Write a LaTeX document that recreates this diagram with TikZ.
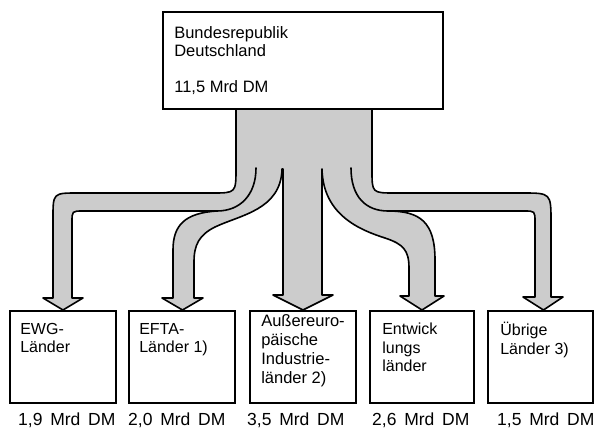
\documentclass[tikz,border=0pt]{standalone}
\usepackage{fontspec}
\setmainfont{Liberation Sans}
\newfontfamily\amountfont{Liberation Sans}[WordSpace=1.6]
\begin{document}
\begin{tikzpicture}[x=1pt,y=-1pt,
  box/.style={draw=black,line width=1.8pt,fill=white,rectangle,inner sep=0pt},
  txt/.style={anchor=north west,inner sep=0pt,align=left,font=\fontsize{16}{18.5}\selectfont},
  amount/.style={anchor=base west,inner sep=0pt,font=\amountfont\fontsize{17.5}{19}\selectfont},
  flow/.style={fill=black!20,draw=black,line width=1.6pt,line join=round},
  flowline/.style={draw=black,line width=1.6pt,line cap=round}]
\useasboundingbox (0,0) rectangle (597,431);

% shaded flow band (trunk and five arrows)
\path[flow] (236,109)
  -- (236,168) .. controls (236,193) .. (212,193)
  -- (78,193) .. controls (53,193) .. (53,218)
  -- (53,298) -- (43,298) -- (63,310) -- (83,298) -- (72,298)
  -- (72,222) .. controls (72,211) .. (83,211)
  -- (217,211) .. controls (185,213) and (173,225) .. (173,250)
  -- (173,298) -- (162,298) -- (182.5,310) -- (203,298) -- (194,298)
  -- (194,262) .. controls (194,245) and (199,235) .. (215,227)
  .. controls (240,215) and (281,210) .. (282,169)
  -- (283,169) -- (283,295) -- (273,295) -- (303,310) -- (333,295) -- (322,295)
  -- (322,169) .. controls (323,215) and (360,230) .. (385,238)
  .. controls (403,244) and (409,250) .. (409,268)
  -- (409,296) -- (400,296) -- (422,310) -- (444,296) -- (435,296)
  -- (435,260) .. controls (435,222) and (420,211) .. (388,211)
  -- (524,211) .. controls (535,211) .. (535,222)
  -- (535,297) -- (523,297) -- (543.5,310) -- (563,297) -- (551,297)
  -- (551,222) .. controls (551,193) .. (522,193)
  -- (395,193) .. controls (372,193) .. (372,170)
  -- (372,109) -- cycle;
\path[flowline] (256,168) .. controls (256,195) and (240,211) .. (217,211);
\path[flowline] (351,168) .. controls (351,197) and (366,211) .. (388,211);

% boxes
\node[box,minimum width=280pt,minimum height=97pt] (top) at (303,60.5) {};
\node[box,minimum width=106pt,minimum height=92pt] (b1) at (63,357) {};
\node[box,minimum width=106pt,minimum height=92pt] (b2) at (182,357) {};
\node[box,minimum width=106pt,minimum height=92pt] (b3) at (303,357) {};
\node[box,minimum width=104pt,minimum height=92pt] (b4) at (422,357) {};
\node[box,minimum width=105pt,minimum height=92pt] (b5) at (540.5,357) {};

% texts
\node[txt,font=\fontsize{16.5}{18.5}\selectfont] (t0) at ([shift={(12,15)}]top.north west) {Bundesrepublik\\Deutschland\\[17pt]11,5 Mrd DM};
\node[txt] (t1) at ([shift={(11,13)}]b1.north west) {EWG-\\Länder};
\node[txt] (t2) at ([shift={(11,13)}]b2.north west) {EFTA-\\Länder 1)};
\node[txt,font=\fontsize{16.5}{19}\selectfont] (t3) at ([shift={(12,4.5)}]b3.north west) {Außereuro-\\päische\\Industrie-\\länder 2)};
\node[txt] (t4) at ([shift={(13,13)}]b4.north west) {Entwick\\lungs\\länder};
\node[txt] (t5) at ([shift={(13,12)}]b5.north west) {Übrige\\Länder 3)};

% amounts
\node[amount] (l1) at (18,425) {1,9 Mrd DM};
\node[amount] (l2) at (128,425) {2,0 Mrd DM};
\node[amount] (l3) at (247,425) {3,5 Mrd DM};
\node[amount] (l4) at (372,425) {2,6 Mrd DM};
\node[amount] (l5) at (497,425) {1,5 Mrd DM};
\end{tikzpicture}
\end{document}
